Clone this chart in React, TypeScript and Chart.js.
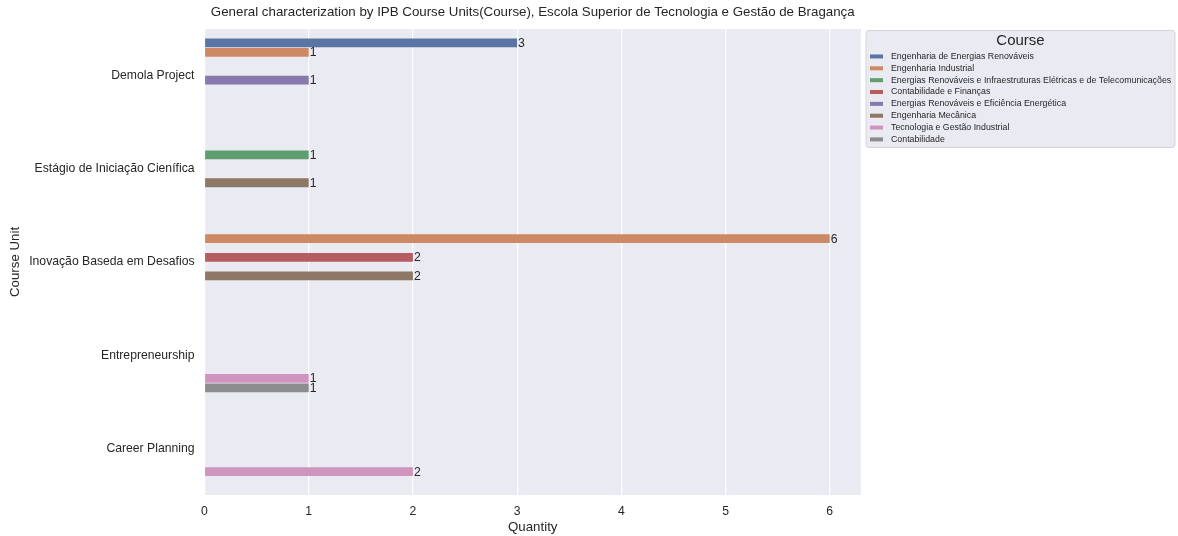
import { useEffect, useRef } from 'react';
import { Chart, registerables } from 'chart.js';

Chart.register(...registerables);

const TITLE = 'General characterization by IPB Course Units(Course), Escola Superior de Tecnologia e Gestão de Bragança';
const X_TITLE = 'Quantity';
const Y_TITLE = 'Course Unit';
const LEGEND_TITLE = 'Course';

const CATEGORIES = [
  'Demola Project',
  'Estágio de Iniciação Cienífica',
  'Inovação Baseda em Desafios',
  'Entrepreneurship',
  'Career Planning',
];

const COURSES = [
  'Engenharia de Energias Renováveis',
  'Engenharia Industrial',
  'Energias Renováveis e Infraestruturas Elétricas e de Telecomunicações',
  'Contabilidade e Finanças',
  'Energias Renováveis e Eficiência Energética',
  'Engenharia Mecânica',
  'Tecnologia e Gestão Industrial',
  'Contabilidade',
];

const COLORS = ['#5975a4', '#cc8963', '#5f9e6e', '#b55d60', '#857aab', '#8d7866', '#d095bf', '#8c8c8c'];

// values per course, in CATEGORIES order (null = no bar)
const ENG_ENERGIAS_RENOVAVEIS = [3, null, null, null, null];
const ENG_INDUSTRIAL = [1, null, 6, null, null];
const ER_INFRAESTRUTURAS = [null, 1, null, null, null];
const CONTABILIDADE_FINANCAS = [null, null, 2, null, null];
const ER_EFICIENCIA = [1, null, null, null, null];
const ENG_MECANICA = [null, 1, 2, null, null];
const TEC_GESTAO_INDUSTRIAL = [null, null, null, 1, 2];
const CONTABILIDADE = [null, null, null, 1, null];

const SERIES = [
  ENG_ENERGIAS_RENOVAVEIS,
  ENG_INDUSTRIAL,
  ER_INFRAESTRUTURAS,
  CONTABILIDADE_FINANCAS,
  ER_EFICIENCIA,
  ENG_MECANICA,
  TEC_GESTAO_INDUSTRIAL,
  CONTABILIDADE,
];

const X_TICKS = [0, 1, 2, 3, 4, 5, 6];
const X_MAX = 6.3;

const FONT = "'Liberation Sans', Arial, sans-serif";
const TEXT = '#262626';

const bgPlugin = {
  id: 'axesBg',
  beforeDraw(chart: any) {
    const { ctx, chartArea: a } = chart;
    ctx.save();
    ctx.fillStyle = '#eaeaf2';
    ctx.fillRect(a.left, a.top, a.right - a.left, a.bottom - a.top);
    ctx.restore();
  },
};

const valueLabelPlugin = {
  id: 'valueLabels',
  afterDatasetsDraw(chart: any) {
    const { ctx } = chart;
    ctx.save();
    ctx.font = `12.2px ${FONT}`;
    ctx.fillStyle = TEXT;
    ctx.textAlign = 'left';
    ctx.textBaseline = 'middle';
    chart.data.datasets.forEach((ds: any, di: number) => {
      const meta = chart.getDatasetMeta(di);
      meta.data.forEach((el: any, i: number) => {
        const v = ds.data[i];
        if (v === null || v === undefined) return;
        ctx.fillText(String(v), el.x + 1, el.y + 0.5);
      });
    });
    ctx.restore();
  },
};

const legendPlugin = {
  id: 'boxLegend',
  afterDraw(chart: any) {
    const { ctx, chartArea: a } = chart;
    const left = a.right + 5;
    const top = a.top + 1.5;
    const w = 309;
    const h = 117;
    ctx.save();
    ctx.beginPath();
    const r = 3;
    ctx.moveTo(left + r, top);
    ctx.lineTo(left + w - r, top);
    ctx.quadraticCurveTo(left + w, top, left + w, top + r);
    ctx.lineTo(left + w, top + h - r);
    ctx.quadraticCurveTo(left + w, top + h, left + w - r, top + h);
    ctx.lineTo(left + r, top + h);
    ctx.quadraticCurveTo(left, top + h, left, top + h - r);
    ctx.lineTo(left, top + r);
    ctx.quadraticCurveTo(left, top, left + r, top);
    ctx.closePath();
    ctx.fillStyle = '#eaeaf2';
    ctx.fill();
    ctx.strokeStyle = '#d4d4d8';
    ctx.lineWidth = 1;
    ctx.stroke();

    ctx.fillStyle = TEXT;
    ctx.font = `15px ${FONT}`;
    ctx.textAlign = 'center';
    ctx.textBaseline = 'middle';
    ctx.fillText(LEGEND_TITLE, left + w / 2, top + 10.5);

    ctx.font = `8.8px ${FONT}`;
    ctx.textAlign = 'left';
    chart.data.datasets.forEach((ds: any, i: number) => {
      const y = top + 26 + i * 11.85;
      ctx.fillStyle = ds.backgroundColor;
      ctx.fillRect(left + 4, y - 2, 13, 4);
      ctx.fillStyle = TEXT;
      ctx.fillText(ds.label, left + 25, y);
    });
    ctx.restore();
  },
};

export default function App() {
  const ref = useRef<HTMLCanvasElement | null>(null);

  useEffect(() => {
    if (!ref.current) return;
    Chart.defaults.font.family = FONT;
    const chart = new Chart(ref.current, {
      type: 'bar',
      data: {
        labels: CATEGORIES,
        datasets: COURSES.map((label, i) => ({
          label,
          data: SERIES[i],
          backgroundColor: COLORS[i],
          borderWidth: 0,
          barPercentage: 0.94,
          categoryPercentage: 0.8,
        })),
      },
      options: {
        indexAxis: 'y',
        responsive: false,
        animation: false,
        layout: { padding: { left: 0, right: 317, top: 0, bottom: 0 } },
        plugins: {
          legend: { display: false },
          tooltip: { enabled: false },
          title: {
            display: true,
            text: TITLE,
            fullSize: false,
            color: TEXT,
            font: { size: 13.3, weight: 'normal', family: FONT },
            padding: { top: 4, bottom: 9 },
          },
        },
        scales: {
          x: {
            type: 'linear',
            min: 0,
            max: X_MAX,
            afterBuildTicks: (s: any) => {
              s.ticks = X_TICKS.map((v) => ({ value: v }));
            },
            afterFit: (s: any) => {
              s.height = 41;
            },
            grid: { color: '#ffffff', lineWidth: 1.2, drawTicks: false },
            border: { display: false },
            ticks: { color: TEXT, font: { size: 12.2, family: FONT }, padding: 9 },
            title: {
              display: true,
              text: X_TITLE,
              color: TEXT,
              font: { size: 13.3, family: FONT },
              padding: { top: 2, bottom: 1 },
            },
          },
          y: {
            type: 'category',
            afterFit: (s: any) => {
              s.width = 204.5;
            },
            grid: { display: false, drawTicks: false },
            border: { display: false },
            ticks: { color: TEXT, font: { size: 12.2, family: FONT }, padding: 10 },
            title: {
              display: true,
              text: Y_TITLE,
              color: TEXT,
              font: { size: 13.3, family: FONT },
              padding: { top: 7, bottom: 0 },
            },
          },
        },
      },
      plugins: [bgPlugin, valueLabelPlugin, legendPlugin],
    });
    return () => chart.destroy();
  }, []);

  return (
    <div style={{ position: 'absolute', left: 0, top: 0, width: 1178, height: 536, background: '#ffffff' }}>
      <canvas ref={ref} width={1178} height={536} style={{ display: 'block' }} />
    </div>
  );
}
